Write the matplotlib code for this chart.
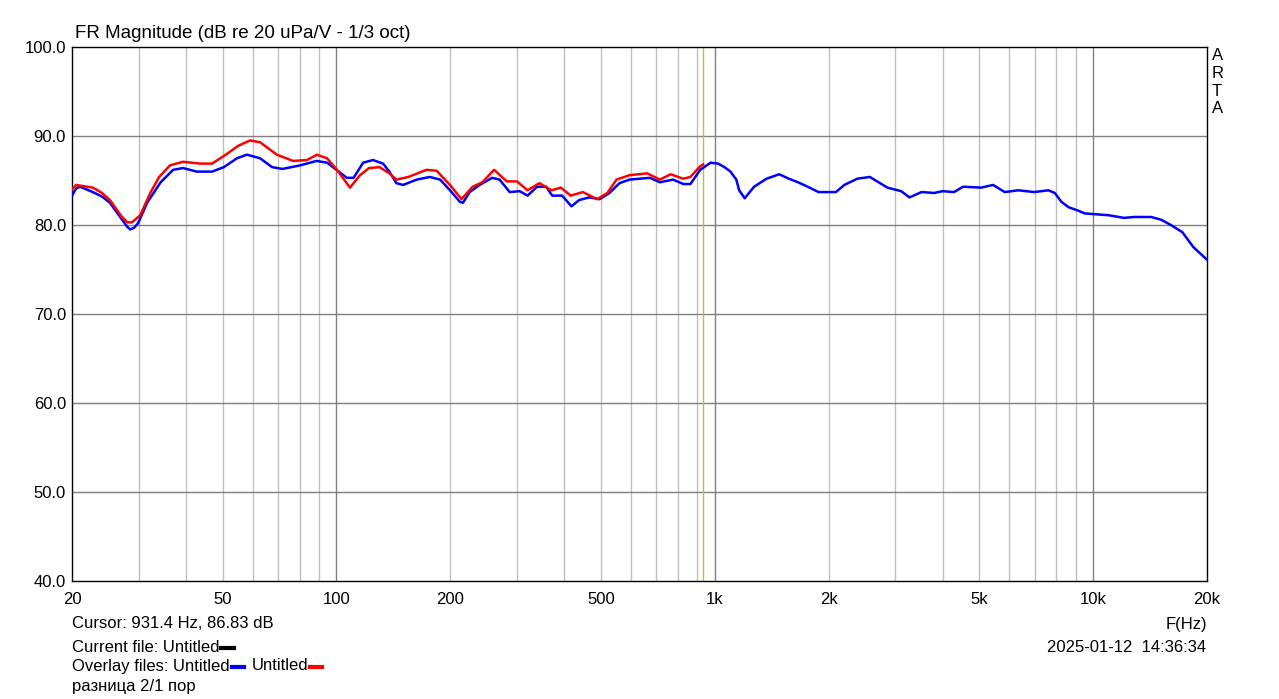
import numpy as np
import matplotlib.pyplot as plt
from matplotlib.lines import Line2D
from matplotlib.ticker import FixedLocator, NullFormatter

plt.rcParams['font.family'] = ['Liberation Sans', 'DejaVu Sans']

# Datos - curva azul (overlay 1)
f_blue = [20, 20.5, 21, 22.7, 24.0, 25.2, 26.8, 28.0, 28.5, 29.2, 29.9, 31.6, 34.3, 37.0, 39.3, 42.7, 46.9,
          50.4, 54.6, 58.0, 62.8, 67.6, 72.0, 80.2, 88.6, 94.5, 100, 106.5, 111, 117.6,
          124.9, 132.8, 138, 144, 150, 163, 176.5, 188, 199.6, 212, 216, 225, 239, 258,
          270, 287, 305, 320, 339, 358, 372, 395, 418, 438, 466, 496, 527, 560, 595, 674,
          716, 776, 826, 862, 915, 975, 1020, 1061, 1100, 1140, 1160, 1200, 1270, 1370,
          1480, 1570, 1660, 1760, 1880, 2090, 2200, 2380, 2570, 2710, 2860, 3110, 3270,
          3520, 3800, 4000, 4290, 4530, 5060, 5440, 5840, 6340, 6990, 7620, 7920, 8250,
          8610, 9150, 9500, 10980, 12070, 12840, 14230, 15120, 16050, 17210, 18420, 20000]
db_blue = [83.3, 84.1, 84.3, 83.7, 83.2, 82.5, 80.9, 79.8, 79.5, 79.7, 80.2, 82.5, 84.8, 86.2, 86.4, 86.0, 86.0,
           86.5, 87.5, 87.9, 87.5, 86.5, 86.3, 86.7, 87.2, 87.0, 86.2, 85.3, 85.3, 87.0,
           87.3, 86.9, 86.0, 84.7, 84.5, 85.1, 85.4, 85.1, 83.9, 82.6, 82.5, 83.7, 84.5, 85.3,
           85.1, 83.7, 83.8, 83.3, 84.3, 84.3, 83.3, 83.3, 82.1, 82.8, 83.1, 82.9, 83.6, 84.7, 85.1, 85.3,
           84.8, 85.1, 84.6, 84.6, 86.2, 87.0, 86.9, 86.5, 86.0, 85.1, 83.9, 83.0, 84.3, 85.2,
           85.7, 85.2, 84.8, 84.3, 83.7, 83.7, 84.5, 85.2, 85.4, 84.8, 84.2, 83.8, 83.1,
           83.7, 83.6, 83.8, 83.7, 84.3, 84.2, 84.5, 83.7, 83.9, 83.7, 83.9, 83.6, 82.6,
           82.0, 81.6, 81.3, 81.1, 80.8, 80.9, 80.9, 80.6, 80.0, 79.2, 77.5, 76.1]

# Datos - curva roja (overlay 2)
f_red = [20, 20.5, 22.7, 24.0, 25.2, 27.0, 28.0, 28.8, 30.3, 32.2, 34.0, 36.3, 39.3, 43.6, 46.9, 51.4, 55.0, 59.1,
         62.8, 69.6, 76.8, 83.6, 88.8, 94.4, 100.3, 108.6, 115.4, 122, 130, 138, 144, 155,
         173, 184, 199.6, 214, 229, 243, 261, 282, 300, 320, 344, 370, 392, 416, 448, 489,
         520, 550, 595, 663, 716, 764, 826, 862, 915, 931]
db_red = [84.0, 84.5, 84.2, 83.6, 82.8, 81.0, 80.3, 80.3, 81.1, 83.6, 85.4, 86.7, 87.1, 86.9, 86.9, 88.0, 88.9, 89.5,
          89.3, 87.9, 87.2, 87.3, 87.9, 87.5, 86.2, 84.2, 85.6, 86.4, 86.5, 85.8, 85.1, 85.4,
          86.2, 86.1, 84.5, 82.9, 84.3, 84.8, 86.2, 84.9, 84.9, 83.9, 84.7, 83.9, 84.2, 83.3, 83.7, 82.9,
          83.6, 85.1, 85.6, 85.8, 85.1, 85.7, 85.2, 85.4, 86.6, 86.8]

cursor_f = 931.4
x_ticks = [20, 50, 100, 200, 500, 1000, 2000, 5000, 10000, 20000]
x_labels = ['20', '50', '100', '200', '500', '1k', '2k', '5k', '10k', '20k']
y_ticks = [40, 50, 60, 70, 80, 90, 100]

W, H = 1279, 699
fig = plt.figure(figsize=(W / 100, H / 100), dpi=100)
ax = fig.add_axes([72 / W, 1 - 581 / H, (1207 - 72) / W, (581 - 47) / H])

ax.set_xscale('log')
ax.set_xlim(20, 20000)
ax.set_ylim(40, 100)

# rejilla
minor = [m * d for d in (10, 100, 1000, 10000) for m in range(2, 10) if 20 < m * d < 20000]
for f in minor:
    ax.axvline(f, color='#c0c0c0', lw=1, zorder=1)
for f in (100, 1000, 10000):
    ax.axvline(f, color='#808080', lw=1, zorder=1)
for y in y_ticks[1:-1]:
    ax.axhline(y, color='#808080', lw=1, zorder=1)
ax.axvline(cursor_f, color='#c8c020', lw=1, zorder=2)

ax.plot(f_blue, db_blue, color='#0000ff', lw=1.8, zorder=3)
ax.plot(f_red, db_red, color='#ff0000', lw=1.8, zorder=4)

ax.xaxis.set_major_locator(FixedLocator(x_ticks))
ax.set_xticklabels(x_labels)
ax.xaxis.set_minor_formatter(NullFormatter())
ax.set_yticks(y_ticks)
ax.set_yticklabels([f'{v:.1f}' for v in y_ticks])
fs = 12
ax.tick_params(which='both', length=0, labelsize=fs)
ax.tick_params(axis='y', pad=4.3)
ax.tick_params(axis='x', pad=8)
for s in ax.spines.values():
    s.set_color('black')
    s.set_linewidth(1)

fig.text(75 / W, 1 - 33 / H, 'FR Magnitude (dB re 20 uPa/V - 1/3 oct)', fontsize=13.5, va='center')
for i, ch in enumerate('ARTA'):
    fig.text(1212 / W, 1 - (56 + 17.5 * i) / H, ch, fontsize=fs, va='center')

fig.text(72 / W, 1 - 624 / H, 'Cursor: 931.4 Hz, 86.83 dB', fontsize=fs, va='center')
t_cur = fig.text(72 / W, 1 - 647 / H, 'Current file: Untitled', fontsize=fs, va='center')
t_ov1 = fig.text(72 / W, 1 - 666 / H, 'Overlay files: Untitled', fontsize=fs, va='center')
fig.text(72 / W, 1 - 686 / H, 'разница 2/1 пор', fontsize=fs, va='center')
fig.text(1207 / W, 1 - 624 / H, 'F(Hz)', fontsize=fs, va='center', ha='right')
fig.text(1206 / W, 1 - 647 / H, '2025-01-12  14:36:34', fontsize=fs, va='center', ha='right')

fig.canvas.draw()
r = fig.canvas.get_renderer()


def dash(x0, ypix, color):
    fig.add_artist(Line2D([x0 / W, (x0 + 12) / W], [1 - ypix / H, 1 - ypix / H],
                         color=color, lw=3, transform=fig.transFigure))


x_end = t_cur.get_window_extent(r).x1
dash(x_end + 2, 648, 'black')
x_end = t_ov1.get_window_extent(r).x1
dash(x_end + 2, 667, '#0000ff')
t_ov2 = fig.text((x_end + 22) / W, 1 - 666 / H, 'Untitled', fontsize=fs, va='center')
fig.canvas.draw()
x_end = t_ov2.get_window_extent(r).x1
dash(x_end + 2, 667, '#ff0000')

fig.savefig('out.png', dpi=100)
